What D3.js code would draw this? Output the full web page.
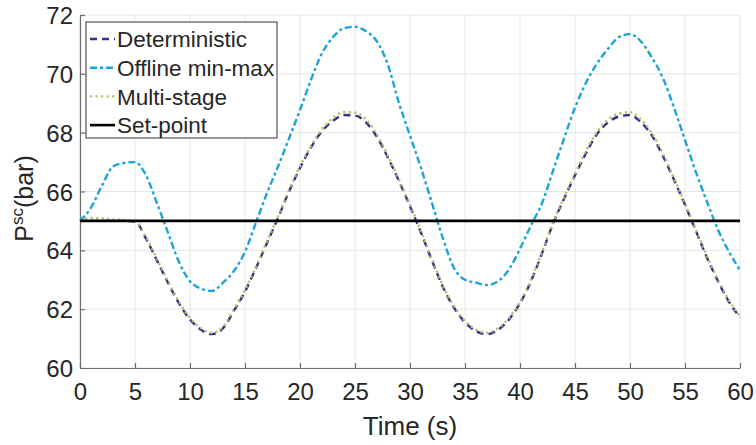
<!DOCTYPE html>
<html>
<head>
<meta charset="utf-8">
<script src="https://d3js.org/d3.v7.min.js"></script>
<style>
  body { margin: 0; background: #fff; }
  text { font-family: "Liberation Sans", Arial, sans-serif; fill: #262626; }
</style>
</head>
<body>
<div id="chart"></div>
<script>
// time axis (s)
var time = d3.range(0, 61);

// pressure values (bar), one per second
var deterministic = [65.00, 65.00, 65.00, 65.00, 65.00, 64.98, 64.40, 63.65, 62.90, 62.20,
  61.65, 61.30, 61.15, 61.35, 61.95, 62.60, 63.40, 64.25, 65.10, 66.00,
  66.80, 67.50, 68.05, 68.40, 68.60, 68.58, 68.35, 67.85, 67.15, 66.35,
  65.50, 64.60, 63.65, 62.75, 62.05, 61.55, 61.25, 61.15, 61.30, 61.65,
  62.20, 62.95, 63.90, 64.90, 65.75, 66.55, 67.30, 67.95, 68.35, 68.55,
  68.60, 68.35, 67.90, 67.20, 66.40, 65.55, 64.65, 63.75, 62.95, 62.25, 61.72];

var offline = [65.00, 65.45, 66.20, 66.85, 66.97, 67.00, 66.55, 65.60, 64.60, 63.60,
  62.95, 62.70, 62.62, 62.90, 63.30, 63.95, 64.95, 65.95, 66.85, 67.80,
  68.77, 69.80, 70.70, 71.25, 71.55, 71.60, 71.45, 71.10, 70.30, 69.00,
  67.90, 66.80, 65.60, 64.40, 63.40, 63.00, 62.90, 62.82, 62.95, 63.35,
  64.05, 64.85, 65.60, 66.70, 67.80, 68.85, 69.70, 70.35, 70.85, 71.25,
  71.35, 71.10, 70.55, 69.85, 68.85, 67.75, 66.65, 65.65, 64.70, 63.95, 63.33];

var multistage = [65.00, 65.10, 65.08, 65.05, 65.03, 65.00, 64.45, 63.70, 62.95, 62.25,
  61.70, 61.35, 61.20, 61.40, 62.00, 62.65, 63.45, 64.30, 65.15, 66.05,
  66.85, 67.55, 68.12, 68.50, 68.70, 68.68, 68.45, 67.92, 67.20, 66.40,
  65.55, 64.65, 63.70, 62.80, 62.10, 61.60, 61.30, 61.20, 61.35, 61.70,
  62.25, 63.00, 63.95, 64.95, 65.80, 66.60, 67.38, 68.02, 68.45, 68.65,
  68.70, 68.45, 67.98, 67.28, 66.45, 65.60, 64.70, 63.80, 63.00, 62.30, 61.76];

var setpoint = 65;

var xTicks = d3.range(0, 61, 5);
var yTicks = [60, 62, 64, 66, 68, 70, 72];

var margin = { top: 15, right: 16, bottom: 77, left: 80 },
    width = 756 - margin.left - margin.right,
    height = 445 - margin.top - margin.bottom;

var svg = d3.select("#chart").append("svg")
    .attr("width", 756).attr("height", 445)
  .append("g")
    .attr("transform", "translate(" + margin.left + "," + margin.top + ")");

var x = d3.scaleLinear().domain([0, 60]).range([0, width]);
var y = d3.scaleLinear().domain([60, 72]).range([height, 0]);

// grid
svg.append("g").selectAll("line").data(xTicks).enter().append("line")
    .attr("x1", d => x(d)).attr("x2", d => x(d))
    .attr("y1", 0).attr("y2", height)
    .attr("stroke", "#e6e6e6").attr("stroke-width", 1);
svg.append("g").selectAll("line").data(yTicks).enter().append("line")
    .attr("x1", 0).attr("x2", width)
    .attr("y1", d => y(d)).attr("y2", d => y(d))
    .attr("stroke", "#e6e6e6").attr("stroke-width", 1);

// axes (ticks pointing inside, like matlab)
var xAxis = svg.append("g")
    .attr("transform", "translate(0," + height + ")")
    .call(d3.axisBottom(x).tickValues(xTicks).tickSize(-5).tickSizeOuter(0));
var yAxis = svg.append("g")
    .call(d3.axisLeft(y).tickValues(yTicks).tickSize(-5).tickPadding(7).tickSizeOuter(0));

[xAxis, yAxis].forEach(function (a) {
  a.select(".domain").attr("stroke", "#6e6e6e").attr("stroke-width", 1.2);
  a.selectAll(".tick line").attr("stroke", "#6e6e6e").attr("stroke-width", 1.2);
  a.selectAll(".tick text").style("font-size", "24px").attr("fill", "#262626")
    .style("font-family", "'Liberation Sans', Arial, sans-serif");
});
xAxis.selectAll(".tick text").attr("y", 32).attr("dy", 0);
yAxis.selectAll(".tick text").attr("dy", "0.36em");

// axis labels
svg.append("text")
    .attr("x", width / 2).attr("y", height + 67)
    .attr("text-anchor", "middle")
    .style("font-size", "26px")
    .text("Time (s)");

var ylab = svg.append("text")
    .attr("transform", "translate(" + (-47) + "," + (height / 2 + 7) + ") rotate(-90)")
    .attr("text-anchor", "middle")
    .style("font-size", "25px");
ylab.append("tspan").text("P");
ylab.append("tspan").attr("dy", -10).style("font-size", "17px").text("sc");
ylab.append("tspan").attr("dy", 10).text("(bar)");

// lines
var series = [
  { name: "Deterministic", values: deterministic, color: "#3b2f8e", dash: "7,5", w: 2.4 },
  { name: "Offline min-max", values: offline, color: "#1ca4d6", dash: "7,3,3,3", w: 2.4 },
  { name: "Multi-stage", values: multistage, color: "#a9c56a", dash: "2.2,3.3", w: 2.4 }
];

var line = d3.line()
    .x(function (d, i) { return x(time[i]); })
    .y(function (d) { return y(d); })
    .curve(d3.curveMonotoneX);

series.forEach(function (s) {
  svg.append("path")
      .datum(s.values)
      .attr("fill", "none")
      .attr("stroke", s.color)
      .attr("stroke-width", s.w)
      .attr("stroke-dasharray", s.dash)
      .attr("d", line);
});

svg.append("line")
    .attr("x1", x(0)).attr("x2", x(60))
    .attr("y1", y(setpoint)).attr("y2", y(setpoint))
    .attr("stroke", "#000").attr("stroke-width", 2.6);

// legend
var legendItems = series.concat([{ name: "Set-point", color: "#000", dash: null, w: 2.6 }]);
var legend = svg.append("g").attr("transform", "translate(6,7)");
legend.append("rect")
    .attr("width", 191).attr("height", 116)
    .attr("fill", "#fff").attr("stroke", "#333").attr("stroke-width", 1);
legendItems.forEach(function (s, i) {
  var ly = 17 + i * 28.7;
  legend.append("line")
      .attr("x1", 4).attr("x2", 29)
      .attr("y1", ly).attr("y2", ly)
      .attr("stroke", s.color).attr("stroke-width", s.w)
      .attr("stroke-dasharray", s.dash);
  legend.append("text")
      .attr("x", 31).attr("y", ly).attr("dy", "0.36em")
      .style("font-size", "22.5px")
      .text(s.name);
});
</script>
</body>
</html>
